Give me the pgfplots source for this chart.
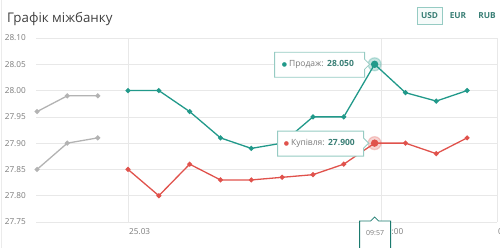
\documentclass[border=0pt]{standalone}
\usepackage{pgfplots}
\pgfplotsset{compat=1.18}
\usepackage{fontspec}
\setmainfont{Open Sans}
\newfontfamily\dejavu{DejaVu Sans}
\definecolor{tealc}{HTML}{21998A}
\definecolor{redc}{HTML}{E0524C}
\definecolor{grayc}{HTML}{B3B3B3}
\definecolor{gridc}{HTML}{E8E8E8}
\definecolor{labc}{HTML}{7A7A7A}
\definecolor{tipb}{HTML}{96CBC3}
\definecolor{tipt}{HTML}{3A7F76}
\begin{document}
\begin{tikzpicture}
\useasboundingbox (0,0) rectangle (500pt,248pt);
\draw[color=black!8, line width=0.8pt] (1pt,0) -- (1pt,248pt);
\node[anchor=base west, inner sep=0pt, text=black!75, font=\fontsize{13.3}{13.3}\selectfont] at (7pt,225pt) {Графік міжбанку};
\draw[tipb, line width=0.8pt, fill=tealc!4] (417pt,224pt) rectangle (442pt,241pt);
\node[text=tipt, font=\fontsize{8.3}{8.3}\selectfont\bfseries] at (429.5pt,232.5pt) {USD};
\node[text=tipt, font=\fontsize{8.3}{8.3}\selectfont\bfseries] at (458pt,232.5pt) {EUR};
\node[text=tipt, font=\fontsize{8.3}{8.3}\selectfont\bfseries] at (487pt,232.5pt) {RUB};
\begin{axis}[at={(36pt,26pt)}, anchor=south west, scale only axis,
  width=461pt, height=184pt,
  xmin=-2.985, xmax=11.97, ymin=27.75, ymax=28.10,
  ytick={27.75,27.80,27.85,27.90,27.95,28.00,28.05,28.10},
  yticklabels={27.75,27.80,27.85,27.90,27.95,28.00,28.05,28.10},
  xtick={0,8.21,11.97}, xticklabels={25.03,12:00,06:00},
  grid=major, major grid style={draw=gridc, line width=0.7pt},
  axis line style={draw=none}, major tick length=0pt,
  clip=false,
  yticklabel style={anchor=east, inner sep=0pt, xshift=-10pt, font=\fontsize{8.2}{8.2}\selectfont, text=labc},
  xticklabel style={anchor=north west, inner sep=0pt, yshift=-6pt, xshift=1pt, font=\fontsize{8.2}{8.2}\selectfont, text=labc},
  every axis plot/.append style={line width=1.3pt, mark=*, mark size=1.8pt},
]
\addplot[grayc, mark options={grayc}] coordinates {(-2.95,27.96) (-1.97,27.99) (-0.98,27.99)};
\addplot[grayc, mark options={grayc}] coordinates {(-2.95,27.85) (-1.97,27.90) (-0.98,27.91)};
\addplot[tealc, mark options={tealc}] coordinates {
(0,28.00) (1,28.00) (2,27.96) (3,27.91) (4,27.89) (5,27.90)
(6,27.95) (7,27.95) (8,28.05) (9,27.996) (10,27.98) (11,28.00)};
\addplot[redc, mark options={redc}] coordinates {
(0,27.85) (1,27.80) (2,27.86) (3,27.83) (4,27.83) (5,27.835)
(6,27.84) (7,27.86) (8,27.90) (9,27.90) (10,27.88) (11,27.91)};
\addplot[only marks, mark=*, mark size=6.5pt, tealc, opacity=0.25] coordinates {(8,28.05)};
\addplot[only marks, mark=*, mark size=3pt, tealc] coordinates {(8,28.05)};
\addplot[only marks, mark=*, mark size=6.5pt, redc, opacity=0.25] coordinates {(8,27.90)};
\addplot[only marks, mark=*, mark size=3pt, redc] coordinates {(8,27.90)};
\coordinate (p1) at (axis cs:8,28.05);
\coordinate (p2) at (axis cs:8,27.90);
\coordinate (p3) at (axis cs:8,27.75);
\end{axis}
% tooltip 1
\draw[tipb, line width=0.8pt, fill=white] (p1) ++(-100pt,12pt) -- ++(90pt,0pt) -- ++(0pt,-7pt) -- ++(5pt,-5pt) -- ++(-5pt,-5pt) -- ++(0pt,-8pt) -- ++(-90pt,0pt) -- cycle;
\node[anchor=west, inner sep=0pt, font=\fontsize{8.5}{8.5}\selectfont] at ([xshift=-93pt,yshift=-0.5pt]p1) {{\dejavu\fontsize{6}{6}\selectfont\color{tealc}●}\hspace{2pt}{\color{labc}Продаж:}\hspace{3.5pt}{\color{tipt}\bfseries 28.050}};
% tooltip 2
\draw[tipb, line width=0.8pt, fill=white] (p2) ++(-97pt,12pt) -- ++(86pt,0pt) -- ++(0pt,-7pt) -- ++(5pt,-5pt) -- ++(-5pt,-5pt) -- ++(0pt,-8pt) -- ++(-86pt,0pt) -- cycle;
\node[anchor=west, inner sep=0pt, font=\fontsize{8.5}{8.5}\selectfont] at ([xshift=-91pt,yshift=-0.5pt]p2) {{\dejavu\fontsize{6}{6}\selectfont\color{redc}●}\hspace{2pt}{\color{labc}Купівля:}\hspace{3.5pt}{\color{tipt}\bfseries 27.900}};
% x tooltip
\draw[tealc!80!black, line width=0.8pt, fill=white] (p3) ++(-15pt,-30pt) -- ++(0pt,31pt) -- ++(11pt,0pt) -- ++(4pt,4pt) -- ++(4pt,-4pt) -- ++(12pt,0pt) -- ++(0pt,-31pt);
\node[text=labc, font=\fontsize{7}{7}\selectfont] at ([xshift=0.5pt,yshift=-11pt]p3) {09:57};
\end{tikzpicture}
\end{document}
